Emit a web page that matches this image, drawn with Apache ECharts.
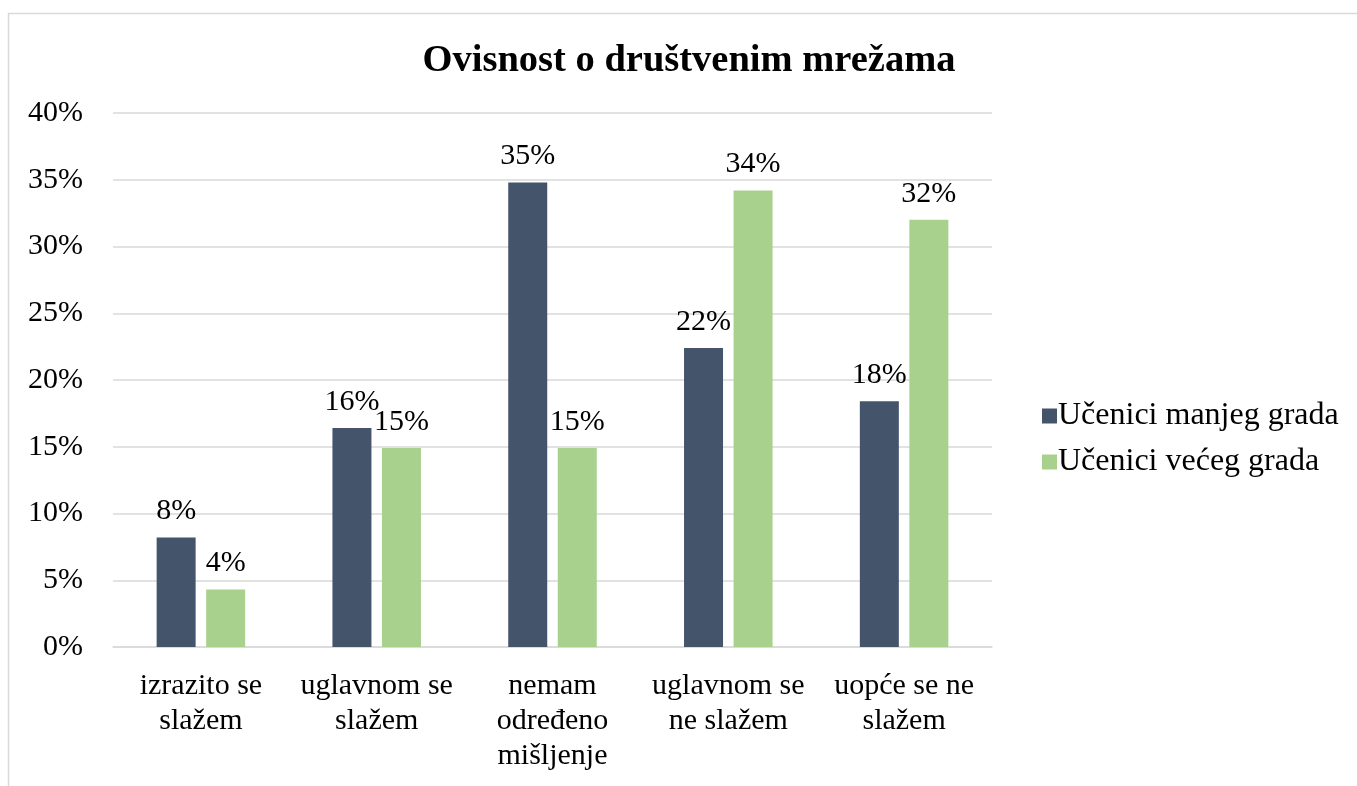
<!DOCTYPE html>
<html>
<head>
<meta charset="utf-8">
<script src="https://cdn.jsdelivr.net/npm/echarts@6/dist/echarts.min.js"></script>
<style>
  html, body { margin: 0; padding: 0; background: #fff; }
  #chart { width: 1357px; height: 786px; }
</style>
</head>
<body>
<div id="chart"></div>
<script>
var categories = [
  "izrazito se\nslažem",
  "uglavnom se\nslažem",
  "nemam\nodređeno\nmišljenje",
  "uglavnom se\nne slažem",
  "uopće se ne\nslažem"
];
var seriesNames = ["Učenici manjeg grada", "Učenici većeg grada"];
var smallTown = [8.2, 16.4, 34.8, 22.4, 18.4];
var bigTown = [4.3, 14.9, 14.9, 34.2, 32.0];
var yTicks = { min: 0, max: 40, interval: 5 };

var serif = "'Liberation Serif', 'Times New Roman', serif";

var chart = echarts.init(document.getElementById("chart"));

function barLabel() {
  return {
    show: true,
    position: "top",
    distance: 11,
    fontFamily: serif,
    fontSize: 30,
    lineHeight: 30,
    color: "#000",
    formatter: function (p) {
      return Math.round(p.value) + "%";
    }
  };
}

var option = {
  backgroundColor: "#fff",
  animation: false,
  title: {
    text: "Ovisnost o društvenim mrežama",
    left: 684,
    textAlign: "center",
    top: 37,
    textStyle: {
      fontFamily: serif,
      fontSize: 38.5,
      fontWeight: "bold",
      color: "#000"
    }
  },
  legend: {
    orient: "vertical",
    left: 1037,
    top: 395,
    icon: "rect",
    itemWidth: 15,
    itemHeight: 15,
    itemGap: 14,
    textStyle: {
      fontFamily: serif,
      fontSize: 32,
      lineHeight: 32,
      color: "#000",
      padding: [0, 0, 0, -4]
    },
    data: seriesNames
  },
  graphic: [{
    type: "rect",
    shape: { x: 8.5, y: 13.5, width: 1400, height: 800 },
    style: { fill: "none", stroke: "#D9D9D9", lineWidth: 1.5 },
    silent: true
  }],
  grid: {
    left: 113,
    right: 365,
    top: 113,
    bottom: 139,
    containLabel: false
  },
  xAxis: {
    type: "category",
    data: categories,
    axisLine: { show: true, lineStyle: { color: "#D9D9D9", width: 1.5 } },
    axisTick: { show: false },
    axisLabel: {
      interval: 0,
      margin: 22,
      fontFamily: serif,
      fontSize: 30,
      lineHeight: 35,
      color: "#000"
    }
  },
  yAxis: {
    type: "value",
    min: yTicks.min,
    max: yTicks.max,
    interval: yTicks.interval,
    axisLine: { show: false },
    axisTick: { show: false },
    splitLine: { lineStyle: { color: "#D9D9D9", width: 1.5 } },
    axisLabel: {
      margin: 30,
      fontFamily: serif,
      fontSize: 30,
      color: "#000",
      formatter: "{value}%"
    }
  },
  series: [
    {
      name: seriesNames[0],
      type: "bar",
      data: smallTown,
      barWidth: 39,
      barGap: "27%",
      itemStyle: { color: "#44546A" },
      label: barLabel()
    },
    {
      name: seriesNames[1],
      type: "bar",
      data: bigTown,
      barWidth: 39,
      barGap: "27%",
      itemStyle: { color: "#A9D18E" },
      label: barLabel()
    }
  ]
};

chart.setOption(option);
</script>
</body>
</html>
